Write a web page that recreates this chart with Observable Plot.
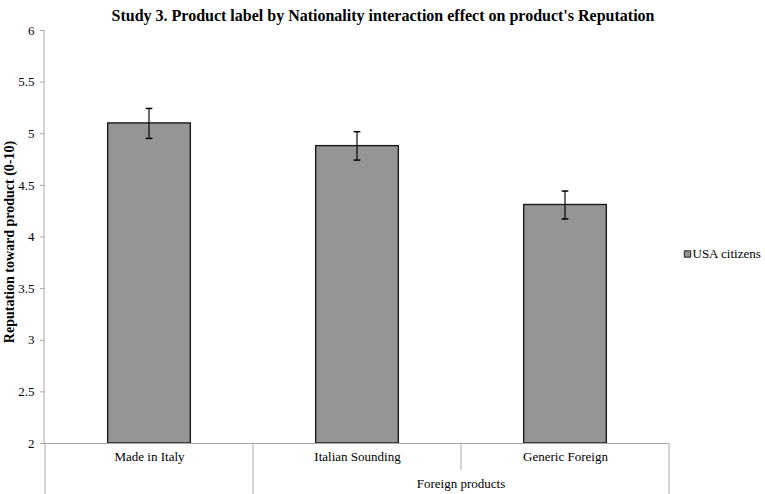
<!DOCTYPE html>
<html><head><meta charset="utf-8">
<script src="https://cdn.jsdelivr.net/npm/d3@7"></script>
<script src="https://cdn.jsdelivr.net/npm/@observablehq/plot@0.6"></script>
<style>body{margin:0;background:#fff} svg text{font-family:"Liberation Serif",serif !important}</style>
</head><body><div id="chart"></div>
<script>
const categories = ["Made in Italy", "Italian Sounding", "Generic Foreign"];
const means = [5.10, 4.88, 4.31];
const errLow = [4.955, 4.745, 4.175];
const errHigh = [5.245, 5.02, 4.445];
const yTicks = [2, 2.5, 3, 3.5, 4, 4.5, 5, 5.5, 6];
const groupLabel = "Foreign products";
const groupMembers = ["Italian Sounding", "Generic Foreign"];
const seriesName = "USA citizens";
const titleText = "Study 3. Product label by Nationality interaction effect on product's Reputation";
const yLabel = "Reputation toward product (0-10)";

const W = 765, H = 494, ML = 44, MR = 96, MT = 30, MB = 51;
const bw = (W - ML - MR) / categories.length;
const barW = 83, capW = 7, errW = 1.5;
const data = categories.map((c, i) => ({c, m: means[i], lo: errLow[i], hi: errHigh[i]}));
const font = "Liberation Serif";
const axisGray = "#a6a6a6";
const barFill = "#959595";

function separators(index, scales, values, dim) {
  const x = scales.x;
  const g = d3.create("svg:g").attr("stroke", axisGray).attr("stroke-width", 1);
  const yTop = dim.height - dim.marginBottom;
  const grp = c => groupMembers.includes(c) ? 1 : 0;
  const edges = [];
  categories.forEach((c, i) => {
    const left = x(c);
    const boundary = i === 0 || grp(categories[i - 1]) !== grp(c);
    edges.push({px: left, full: boundary});
  });
  edges.push({px: x(categories[categories.length - 1]) + x.bandwidth(), full: true});
  for (const e of edges) {
    g.append("line").attr("x1", e.px).attr("x2", e.px).attr("y1", yTop)
      .attr("y2", e.full ? dim.height : yTop + 27);
  }
  g.append("line").attr("x1", dim.marginLeft).attr("x2", dim.marginLeft)
    .attr("y1", dim.marginTop).attr("y2", yTop);
  const gx0 = x(groupMembers[0]);
  const gx1 = x(groupMembers[groupMembers.length - 1]) + x.bandwidth();
  g.append("text").attr("x", (gx0 + gx1) / 2).attr("y", yTop + 40)
    .attr("text-anchor", "middle").attr("dy", "0.35em").attr("stroke", "none")
    .attr("fill", "#000").attr("font-size", 13).attr("font-family", font).text(groupLabel);
  return g.node();
}

const plot = Plot.plot({
  width: W, height: H, marginLeft: ML, marginRight: MR, marginTop: MT, marginBottom: MB,
  style: {fontFamily: font, fontSize: "13px", color: "#000", background: "#fff"},
  x: {domain: categories, padding: 0, axis: null},
  y: {domain: [2, 6], axis: null},
  marks: [
    Plot.barY(data, {x: "c", y1: 2, y2: "m", fill: barFill, stroke: "#1a1a1a", strokeWidth: 1.4,
      insetLeft: (bw - barW) / 2, insetRight: (bw - barW) / 2}),
    Plot.barY(data, {x: "c", y1: "lo", y2: "hi", fill: "#000",
      insetLeft: (bw - errW) / 2, insetRight: (bw - errW) / 2}),
    Plot.tickY(data, {x: "c", y: "hi", stroke: "#000", strokeWidth: 1.5,
      insetLeft: (bw - capW) / 2, insetRight: (bw - capW) / 2}),
    Plot.tickY(data, {x: "c", y: "lo", stroke: "#000", strokeWidth: 1.5,
      insetLeft: (bw - capW) / 2, insetRight: (bw - capW) / 2}),
    Plot.ruleY([2], {stroke: axisGray}),
    Plot.axisY({ticks: yTicks, tickSize: 4, tickPadding: 6, stroke: axisGray, fill: "#000",
      tickFormat: d => String(d), label: null, fontSize: 13, fontFamily: font}),
    separators,
    Plot.text(data, {x: "c", text: "c", frameAnchor: "bottom", dy: 17, fill: "#000", fontSize: 13, fontFamily: font}),
    Plot.text([yLabel], {frameAnchor: "left", textAnchor: "middle", dx: -35, dy: 5, rotate: -90,
      fontWeight: "bold", fontSize: 14, fill: "#000", fontFamily: font}),
    Plot.text([titleText], {frameAnchor: "top", dx: (W / 2) - (ML + (W - ML - MR) / 2), dy: -21,
      fontWeight: "bold", fontSize: 16, fill: "#000", fontFamily: font}),
    Plot.dot([seriesName], {frameAnchor: "right", dx: 18, dy: 17, symbol: "square", r: 3.6,
      fill: barFill, stroke: "#222", strokeWidth: 1}),
    Plot.text([seriesName], {frameAnchor: "right", dx: 23, dy: 17, textAnchor: "start", fontSize: 13,
      fill: "#000", fontFamily: font})
  ]
});
document.getElementById("chart").appendChild(plot);
</script>
</body></html>
